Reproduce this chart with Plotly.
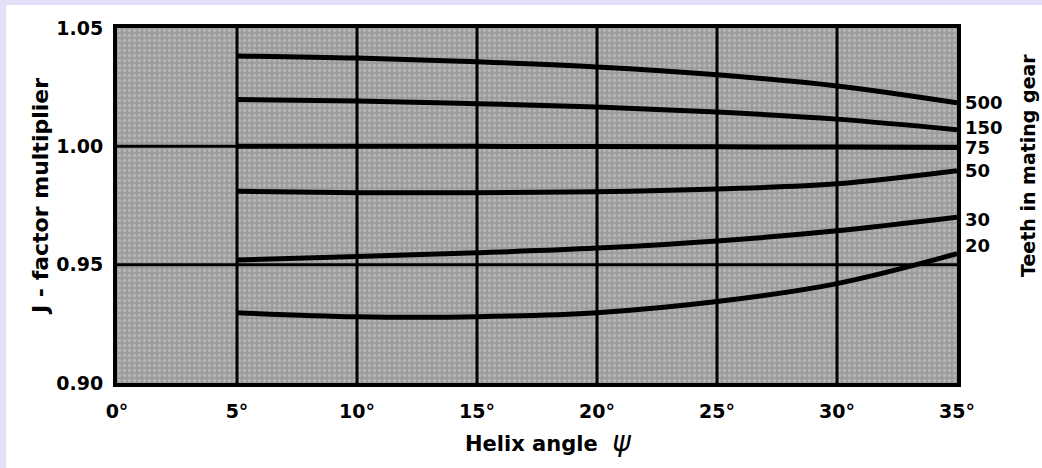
import plotly.graph_objects as go

angles = [5, 10, 15, 20, 25, 30, 35]
teeth_labels = ["500", "150", "75", "50", "30", "20"]
j_500 = [1.0382, 1.0373, 1.0357, 1.0335, 1.0302, 1.0255, 1.0184]
j_150 = [1.0198, 1.0192, 1.0180, 1.0166, 1.0145, 1.0115, 1.0070]
j_75 = [1.0000, 1.0000, 1.0000, 0.9999, 0.9998, 0.9997, 0.9995]
j_50 = [0.9810, 0.9804, 0.9804, 0.9808, 0.9820, 0.9842, 0.9897]
j_30 = [0.9520, 0.9534, 0.9550, 0.9570, 0.9600, 0.9643, 0.9700]
j_20 = [0.9297, 0.9280, 0.9280, 0.9297, 0.9344, 0.9420, 0.9546]
label_y = [1.0184, 1.0078, 0.9995, 0.9897, 0.9692, 0.9582]

x_ticks = [0, 5, 10, 15, 20, 25, 30, 35]
x_ticktext = ["0°", "5°", "10°", "15°", "20°", "25°", "30°", "35°"]
y_ticks = [0.90, 0.95, 1.00, 1.05]
y_ticktext = ["0.90", "0.95", "1.00", "1.05"]

series = [j_500, j_150, j_75, j_50, j_30, j_20]

W, H = 1042, 468
L, R, T, B = 117, 85, 28, 85
pw, ph = W - L - R, H - T - B
x_min, x_max = x_ticks[0], x_ticks[-1]
y_min, y_max = y_ticks[0], y_ticks[-1]

def px(x):
    return (x - L) / pw

def py(y):
    return (H - B - y) / ph

fig = go.Figure()
# stippled background texture
fig.add_trace(go.Scatter(x=[x_min, x_max, x_max, x_min, x_min], y=[y_min, y_min, y_max, y_max, y_min],
                         mode="lines", fill="toself", line=dict(width=0),
                         fillcolor="#9c9c9c",
                         fillpattern=dict(shape=".", fgcolor="#cdcdcd", bgcolor="#9c9c9c",
                                          size=5, solidity=0.35),
                         showlegend=False, hoverinfo="skip"))
# grid lines drawn over texture
gx, gy = [], []
for xv in x_ticks[1:-1]:
    gx += [xv, xv, None]
    gy += [y_min, y_max, None]
for yv in y_ticks[1:-1]:
    gx += [x_min, x_max, None]
    gy += [yv, yv, None]
fig.add_trace(go.Scatter(x=gx, y=gy, mode="lines", line=dict(color="black", width=3),
                         showlegend=False, hoverinfo="skip"))

for name, vals in zip(teeth_labels, series):
    fig.add_trace(go.Scatter(x=angles, y=vals, mode="lines", name=name,
                             line=dict(color="black", width=5, shape="spline", smoothing=1.0),
                             showlegend=False, hoverinfo="skip"))

font = "DejaVu Sans, Liberation Sans, Arial, sans-serif"
ann = []
for t, yv in zip(teeth_labels, label_y):
    ann.append(dict(x=35, y=yv, xref="x", yref="y", text=f"<b>{t}</b>", showarrow=False,
                    xanchor="left", yanchor="middle", xshift=6,
                    font=dict(family=font, size=18, color="black")))
ann.append(dict(x=px(1028), y=py(166), xref="paper", yref="paper",
                text="<b>Teeth in mating gear</b>", textangle=-90, showarrow=False,
                xanchor="center", yanchor="middle",
                font=dict(family=font, size=19, color="black")))
ann.append(dict(x=px(40), y=py(197), xref="paper", yref="paper",
                text="<b>J - factor multiplier</b>", textangle=-90, showarrow=False,
                xanchor="center", yanchor="middle",
                font=dict(family=font, size=22, color="black")))
ann.append(dict(x=px(548), y=py(441), xref="paper", yref="paper",
                text="<b>Helix angle  </b><i><span style='font-size:28px'>ψ</span></i>", showarrow=False,
                xanchor="center", yanchor="middle",
                font=dict(family=font, size=21, color="black")))

shapes = [
    dict(type="rect", xref="paper", yref="paper", x0=px(0), x1=px(6), y0=py(H), y1=py(0),
         fillcolor="#e3e0fa", line=dict(width=0), layer="below"),
    dict(type="rect", xref="paper", yref="paper", x0=px(0), x1=px(W), y0=py(5), y1=py(0),
         fillcolor="#e3e0fa", line=dict(width=0), layer="below"),
]

fig.update_layout(
    width=W, height=H,
    margin=dict(l=L, r=R, t=T, b=B),
    paper_bgcolor="white",
    plot_bgcolor="#a7a7a7",
    annotations=ann,
    shapes=shapes,
    xaxis=dict(range=[x_min, x_max], tickvals=x_ticks, ticktext=x_ticktext,
               showgrid=False, zeroline=False,
               showline=True, linecolor="black", linewidth=4, mirror=True,
               ticks="", ticklabelstandoff=8, layer="above traces",
               tickfont=dict(family=font, size=19, color="black", weight="bold")),
    yaxis=dict(range=[y_min, y_max], tickvals=y_ticks, ticktext=y_ticktext,
               showgrid=False, zeroline=False,
               showline=True, linecolor="black", linewidth=4, mirror=True,
               ticks="", ticklabelstandoff=6, layer="above traces",
               tickfont=dict(family=font, size=19, color="black", weight="bold")),
)

fig.write_html("out.html", config={"displayModeBar": False},
               post_script="document.body.style.margin='0';document.body.style.padding='0';document.body.style.overflow='hidden';")
